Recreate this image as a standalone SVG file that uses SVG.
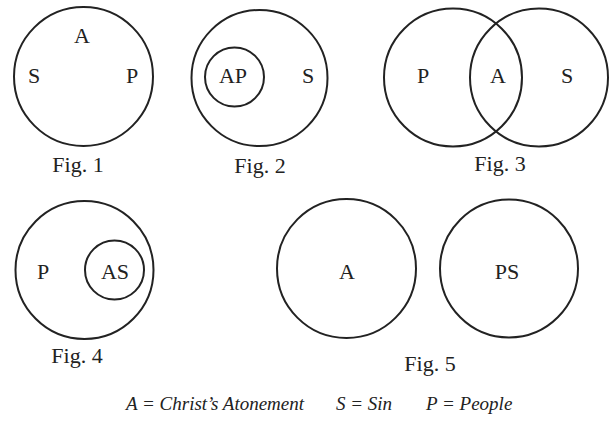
<svg xmlns="http://www.w3.org/2000/svg" width="610" height="421" viewBox="0 0 610 421">
<style>
circle{fill:none;stroke:#222;stroke-width:2}
text{font-family:"Liberation Serif","Times New Roman",serif;fill:#222;text-anchor:middle}
.l{font-size:22px}
.f{font-size:22px}
.g{font-size:19px;font-style:italic;text-anchor:start}
</style>
<rect width="610" height="421" fill="#fff"/>
<g id="fig1">
<circle cx="83.5" cy="76.5" r="69.5"/>
<text class="l" x="82" y="43">A</text>
<text class="l" x="34" y="83">S</text>
<text class="l" x="132" y="83">P</text>
<text class="f" x="78" y="172">Fig. 1</text>
</g>
<g id="fig2">
<circle cx="259.5" cy="78" r="68"/>
<circle cx="234.5" cy="77" r="29.5"/>
<text class="l" x="233" y="83">AP</text>
<text class="l" x="308" y="83">S</text>
<text class="f" x="260" y="173">Fig. 2</text>
</g>
<g id="fig3">
<circle cx="453" cy="77.5" r="69"/>
<circle cx="539" cy="77.5" r="69"/>
<text class="l" x="423" y="83">P</text>
<text class="l" x="498" y="83">A</text>
<text class="l" x="567" y="83">S</text>
<text class="f" x="500" y="171">Fig. 3</text>
</g>
<g id="fig4">
<circle cx="84.5" cy="270" r="69"/>
<circle cx="114.5" cy="270" r="29.5"/>
<text class="l" x="43" y="279">P</text>
<text class="l" x="115" y="279">AS</text>
<text class="f" x="77" y="363">Fig. 4</text>
</g>
<g id="fig5">
<circle cx="346.5" cy="268.5" r="69.5"/>
<circle cx="509" cy="268.5" r="69"/>
<text class="l" x="347" y="279">A</text>
<text class="l" x="507" y="279">PS</text>
<text class="f" x="430" y="371">Fig. 5</text>
</g>
<g id="legend">
<text class="g" x="126" y="410">A = Christ’s Atonement</text>
<text class="g" x="336" y="410">S = Sin</text>
<text class="g" x="426" y="410">P = People</text>
</g>
</svg>
